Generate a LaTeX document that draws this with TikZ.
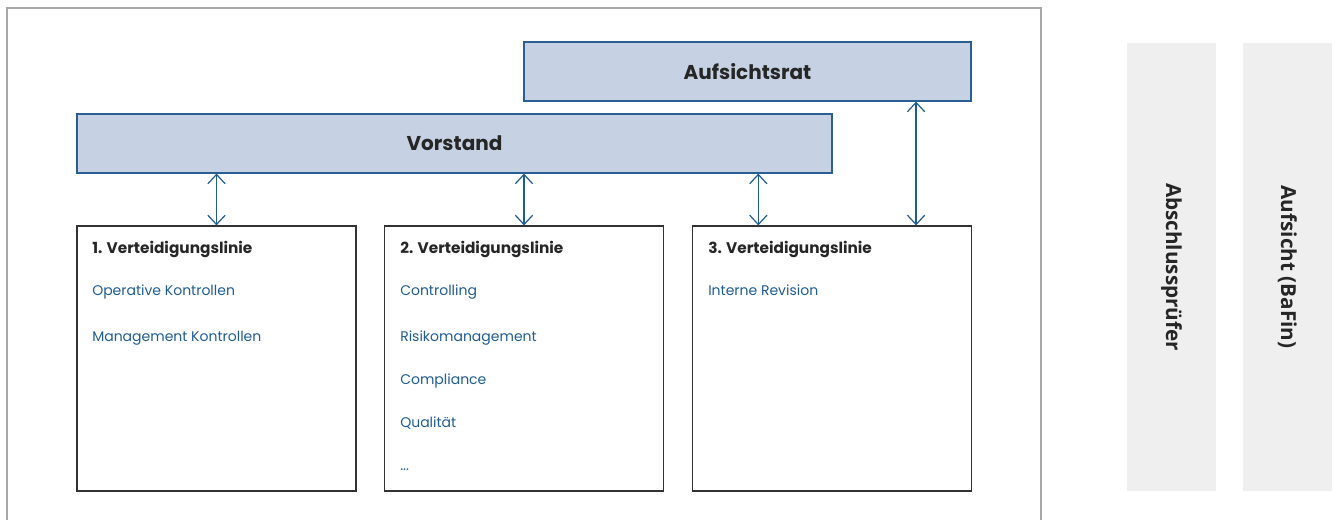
\documentclass[tikz,border=0pt]{standalone}
\usepackage{fontspec}
\setmainfont{Poppins}
\newfontfamily\sidefont{Open Sans}
\usetikzlibrary{arrows.meta,calc}

\definecolor{boardfill}{HTML}{C6D2E3}
\definecolor{boardline}{HTML}{2B5F93}
\definecolor{linkblue}{HTML}{1F5C94}
\definecolor{panelgray}{HTML}{EFEFEF}
\definecolor{framegray}{HTML}{A8A8A8}
\definecolor{boxline}{HTML}{333333}

\begin{document}
\begin{tikzpicture}[x=0.75pt,y=-0.75pt,
  board/.style={rectangle,draw=boardline,fill=boardfill,line width=0.9pt,minimum height=44.25pt,inner sep=0pt,font=\bfseries\fontsize{15}{17}\selectfont,text=black!85},
  linebox/.style={rectangle,draw=boxline,line width=0.9pt,minimum width=209.25pt,minimum height=198.75pt,inner sep=0pt},
  side/.style={rectangle,fill=panelgray,rotate=-90,minimum width=336pt,minimum height=66.75pt,inner sep=0pt,font=\sidefont\bfseries\fontsize{15.5}{17}\selectfont,text=black!85},
  head/.style={anchor=base west,inner sep=0pt,font=\bfseries\fontsize{11.5}{13}\selectfont,text=black!85},
  item/.style={anchor=base west,inner sep=0pt,font=\fontsize{10.5}{12}\selectfont,text=linkblue},
  link/.style={draw=linkblue,line width=0.9pt,{Straight Barb[length=7pt,width=13pt]}-{Straight Barb[length=7pt,width=13pt]}}]
\useasboundingbox (0,0) rectangle (1338,520);

% outer frame, open at the bottom
\draw[framegray,line width=1.2pt] (7,520) -- (7,8) -- (1041,8) -- (1041,520);

\path
(747.5,71.5) node [board,minimum width=335.25pt] (rat) {Aufsichtsrat}
(454.5,143.5) node [board,minimum width=566.25pt] (vorstand) {Vorstand}
(216.5,358.5) node [linebox] (line1) {}
(524,358.5) node [linebox] (line2) {}
(832,358.5) node [linebox] (line3) {}
(1171.5,267) node [side] (pruefer) {Abschlussprüfer}
(1287.5,267) node [side] (bafin) {Aufsicht (BaFin)}
;

% texts of the three lines
\path
(92,254) node [head] (h1) {1. Verteidigungslinie}
(92,296) node [item] (o1) {Operative Kontrollen}
(92,341) node [item] (m1) {Management Kontrollen}
(400,254) node [head] (h2) {2. Verteidigungslinie}
(400,296) node [item] (c2) {Controlling}
(400,341) node [item] (r2) {Risikomanagement}
(400,384) node [item] (k2) {Compliance}
(400,427) node [item] (q2) {Qualität}
(400,470) node [item] (d2) {...}
(708,254) node [head] (h3) {3. Verteidigungslinie}
(708,296) node [item] (i3) {Interne Revision}
;

\coordinate (l3) at ($(line3.north west)!0.237!(line3.north east)$);
\coordinate (l4) at ($(line3.north west)!0.8!(line3.north east)$);

\draw[link] (vorstand.south -| line1.north) -- (line1.north);
\draw[link] (vorstand.south -| line2.north) -- (line2.north);
\draw[link] (vorstand.south -| l3) -- (l3);
\draw[link] (rat.south -| l4) -- (l4);

\end{tikzpicture}
\end{document}
